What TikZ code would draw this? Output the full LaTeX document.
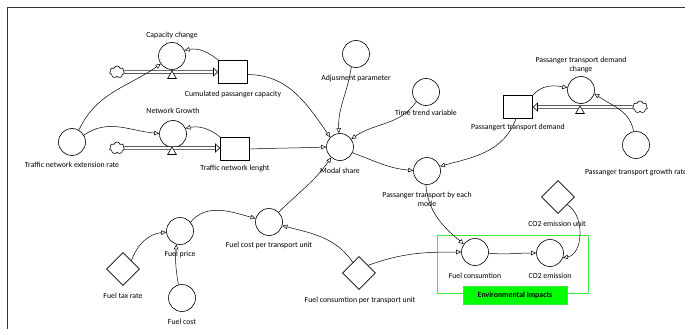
\documentclass[tikz,border=0pt]{standalone}
\usepackage{fontspec}
\setmainfont{Carlito}
\usetikzlibrary{arrows.meta,shapes.geometric,shapes.symbols}
\definecolor{envgreen}{RGB}{0,255,0}
\definecolor{envframe}{RGB}{60,235,60}

\begin{document}
\begin{tikzpicture}[x=1pt,y=1pt,line width=0.6pt,
  aux/.style={circle,draw,minimum size=27pt,inner sep=0pt},
  level/.style={rectangle,draw,minimum width=29pt,minimum height=23pt,inner sep=0pt},
  const/.style={diamond,draw,minimum size=33pt,inner sep=0pt},
  src/.style={cloud,cloud puffs=7,aspect=1.3,draw,minimum width=15pt,minimum height=12pt,inner sep=0pt},
  valve/.style={regular polygon,regular polygon sides=3,draw,fill=white,minimum size=10pt,inner sep=0pt},
  lbl/.style={font=\fontsize{7.8}{9.5}\selectfont,align=center,inner sep=0pt},
  link/.style={-{Triangle[open,length=5pt,width=4.5pt]},line width=0.5pt},
  pipe/.style={double,double distance=2pt,line width=0.6pt,-{Triangle[open,length=5pt,width=9pt]}}]
\useasboundingbox (0,0) rectangle (685,-329);
\draw[line width=1pt,black!80] (7,-329) -- (7,-8) -- (685,-8);

\node[aux] (capch) at (172,-56) {};
\node[lbl] at (172,-35) {Capacity change};
\node[src] (cl1) at (117,-72) {};
\node[level] (cumcap) at (233,-72) {};
\node[lbl] at (233,-94) {Cumulated passanger capacity};
\draw[pipe] (cl1) -- (cumcap);
\node[valve] (v1) at (172,-76) {};

\node[aux] (netgr) at (173,-134) {};
\node[lbl] at (173,-111) {Network Growth};
\node[src] (cl2) at (117,-148) {};
\node[level] (tnl) at (235,-149) {};
\node[lbl] at (235,-168) {Traffic network lenght};
\draw[pipe] (cl2) -- (cl2 -| tnl.west);
\node[valve] (v2) at (172,-152) {};

\node[aux] (tner) at (72,-142) {};
\node[lbl] at (72,-165) {Traffic network extension rate};
\node[aux] (adj) at (356,-54) {};
\node[lbl] at (356,-78) {Adjusment parameter};
\node[aux] (ttv) at (426,-92) {};
\node[lbl] at (426,-113) {Time trend variable};
\node[aux] (modal) at (340,-147) {};
\node[lbl] at (340,-171) {Modal share};
\node[aux] (ptbem) at (427,-171) {};
\node[lbl] at (427,-199.5) {Passanger transport by each\\mode};

\node[level] (ptd) at (518,-107) {};
\node[lbl] at (518,-127) {Passangert transport demand};
\node[aux] (ptdc) at (581,-90) {};
\node[lbl] at (581,-65) {Passanger transport demand\\change};
\node[src] (cl3) at (640,-107) {};
\draw[pipe] (cl3) -- (ptd);
\node[valve] (v3) at (580,-111) {};
\node[aux] (ptgr) at (636,-145) {};
\node[lbl] at (636,-172) {Passanger transport growth rate};

\node[aux] (fcptu) at (269,-222) {};
\node[lbl] at (269,-245) {Fuel cost per transport unit};
\node[aux] (fprice) at (180,-231) {};
\node[lbl] at (180,-254) {Fuel price};
\node[const] (ftr) at (123,-269) {};
\node[lbl] at (123,-296) {Fuel tax rate};
\node[aux] (fcost) at (182,-298) {};
\node[lbl] at (182,-322) {Fuel cost};
\node[const] (fcptud) at (359,-273) {};
\node[lbl] at (360,-300) {Fuel consumtion per transport unit};

\draw[envframe,line width=0.9pt] (437,-235) rectangle (588,-293);
\node[draw=envframe,fill=envgreen,minimum width=104pt,minimum height=18pt,inner sep=0pt,
  font=\fontsize{7.8}{9.5}\selectfont\bfseries] (env) at (515,-295) {Environmental Impacts};
\node[aux] (fcons) at (475,-252) {};
\node[lbl] at (475,-276) {Fuel consumtion};
\node[aux] (co2) at (550,-253) {};
\node[lbl] at (550,-276) {CO2 emission};
\node[const] (co2u) at (558,-197) {};
\node[lbl] at (557,-224) {CO2 emission unit};

\draw[link] (tner.60) to[out=65,in=215] (capch.215);
\draw[link] (tner.30) to[out=35,in=175] (netgr.178);
\draw[link] (cumcap.north west) to[out=140,in=10] (capch.25);
\draw[link] (tnl.north west) to[out=140,in=10] (netgr.25);
\draw[link] (cumcap.-10) to[out=0,in=125] (modal.135);
\draw[link] (tnl.east) to[out=2,in=182] (modal.180);
\draw[link] (adj.250) to[out=262,in=92] (modal.95);
\draw[link] (ttv.225) to[out=235,in=35] (modal.35);
\draw[link] (fcptu.45) to[out=45,in=235] (modal.230);
\draw[link] (modal.-25) to[out=-20,in=175] (ptbem.178);
\draw[link] (ptd.-100) to[out=-110,in=15] (ptbem.20);
\draw[link] (ptd.north east) to[out=50,in=170] (ptdc.170);
\draw[link] (ptgr.100) to[out=100,in=-35] (ptdc.-15);
\draw[link] (fprice.40) to[out=50,in=165] (fcptu.165);
\draw[link] (ftr.north east) to[out=70,in=185] (fprice.185);
\draw[link] (fcost.105) to[out=100,in=-95] (fprice.-105);
\draw[link] (fcptud.120) to[out=125,in=-15] (fcptu.-15);
\draw[link] (fcptud.40) to[out=20,in=180] (fcons.180);
\draw[link] (ptbem.-95) to[out=-85,in=140] (fcons.145);
\draw[link] (fcons.-5) to[out=-5,in=180] (co2.180);
\draw[link] (co2u.-40) to[out=-30,in=10] (co2.-20);
\end{tikzpicture}
\end{document}
